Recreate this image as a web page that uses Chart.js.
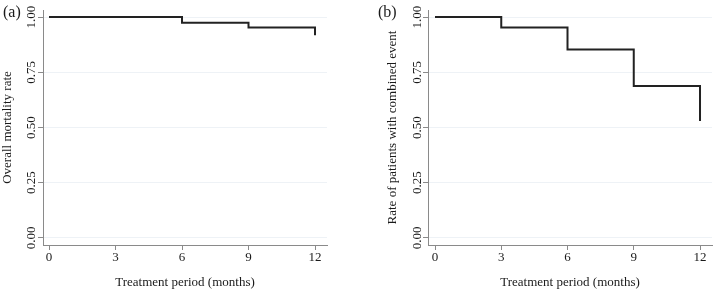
<!DOCTYPE html>
<html>
<head>
<meta charset="utf-8">
<script src="https://cdn.jsdelivr.net/npm/chart.js@4.4.1/dist/chart.umd.min.js"></script>
<style>
  body { margin: 0; background: #fff; }
  #wrap { position: relative; width: 715px; height: 291px; }
  canvas { position: absolute; top: 0; }
  #chartA { left: 0; }
  #chartB { left: 357px; }
</style>
</head>
<body>
<div id="wrap">
  <canvas id="chartA" width="357" height="291"></canvas>
  <canvas id="chartB" width="358" height="291"></canvas>
</div>
<script>
// tick labels
const monthTicks = [0, 3, 6, 9, 12];
const rateTicks = [0, 0.25, 0.5, 0.75, 1];

// (a) overall mortality rate
const timesA = [0, 6, 9, 12];
const mortalityA = [1, 0.974, 0.953, 0.918];

// (b) rate of patients with combined event
const timesB = [0, 3, 6, 9, 12];
const eventB = [1, 0.953, 0.853, 0.688, 0.529];

const serif = 'Liberation Serif';
const textColor = '#1a1a1a';
const axisColor = '#8a8a8a';

// draws panel letter and rotated y tick labels
const extraText = {
    id: 'extraText',
    afterDraw(chart, args, opts) {
        const ctx = chart.ctx;
        const y = chart.scales.y;
        ctx.save();
        ctx.fillStyle = textColor;
        ctx.font = '16px ' + serif;
        ctx.textBaseline = 'middle';
        ctx.textAlign = 'left';
        ctx.fillText(opts.letter, opts.letterX, 13);

        ctx.font = '13px ' + serif;
        ctx.textAlign = 'center';
        ctx.textBaseline = 'alphabetic';
        rateTicks.forEach(v => {
            ctx.save();
            ctx.translate(opts.labelX, y.getPixelForValue(v));
            ctx.rotate(-Math.PI / 2);
            ctx.fillText(v.toFixed(2), 0, 0);
            ctx.restore();
        });
        ctx.restore();
    }
};

function makeChart(id, times, values, yTitle, cfg) {
    const ctx = document.getElementById(id).getContext('2d');
    return new Chart(ctx, {
        type: 'line',
        data: {
            datasets: [{
                data: times.map((t, i) => ({ x: t, y: values[i] })),
                stepped: true,
                borderColor: '#222',
                borderWidth: 2,
                pointRadius: 0,
                fill: false
            }]
        },
        options: {
            responsive: false,
            animation: false,
            layout: { padding: { top: 10, left: cfg.padLeft, right: cfg.padRight, bottom: 0 } },
            plugins: {
                legend: { display: false },
                tooltip: { enabled: false },
                extraText: { letter: cfg.letter, letterX: cfg.letterX, labelX: cfg.labelX }
            },
            scales: {
                x: {
                    type: 'linear',
                    min: cfg.xMin,
                    max: cfg.xMax,
                    afterBuildTicks: s => { s.ticks = monthTicks.map(v => ({ value: v })); },
                    afterFit: s => { s.height = 46; },
                    grid: { drawOnChartArea: false, tickLength: 5, tickColor: axisColor },
                    border: { color: axisColor, width: 1 },
                    ticks: { color: textColor, padding: 0, maxRotation: 0, font: { family: serif, size: 13 } },
                    title: {
                        display: true,
                        text: 'Treatment period (months)',
                        color: textColor,
                        font: { family: serif, size: 13 },
                        padding: { top: 0, bottom: 1 }
                    }
                },
                y: {
                    min: -0.0317,
                    max: 1.0317,
                    afterBuildTicks: s => { s.ticks = rateTicks.map(v => ({ value: v })); },
                    afterFit: s => { s.width = 43; },
                    grid: { color: '#eef2f6', tickLength: 5, tickColor: axisColor },
                    border: { color: axisColor, width: 1 },
                    ticks: { display: false },
                    title: {
                        display: true,
                        text: yTitle,
                        color: textColor,
                        font: { family: serif, size: 13 },
                        padding: 0
                    }
                }
            }
        },
        plugins: [extraText]
    });
}

makeChart('chartA', timesA, mortalityA, 'Overall mortality rate', {
    padLeft: 0, padRight: 30, xMin: -0.271, xMax: 12.541,
    letter: '(a)', letterX: 3, labelX: 35
});
makeChart('chartB', timesB, eventB, 'Rate of patients with combined event', {
    padLeft: 28, padRight: 3, xMin: -0.317, xMax: 12.543,
    letter: '(b)', letterX: 21, labelX: 64
});
</script>
</body>
</html>
